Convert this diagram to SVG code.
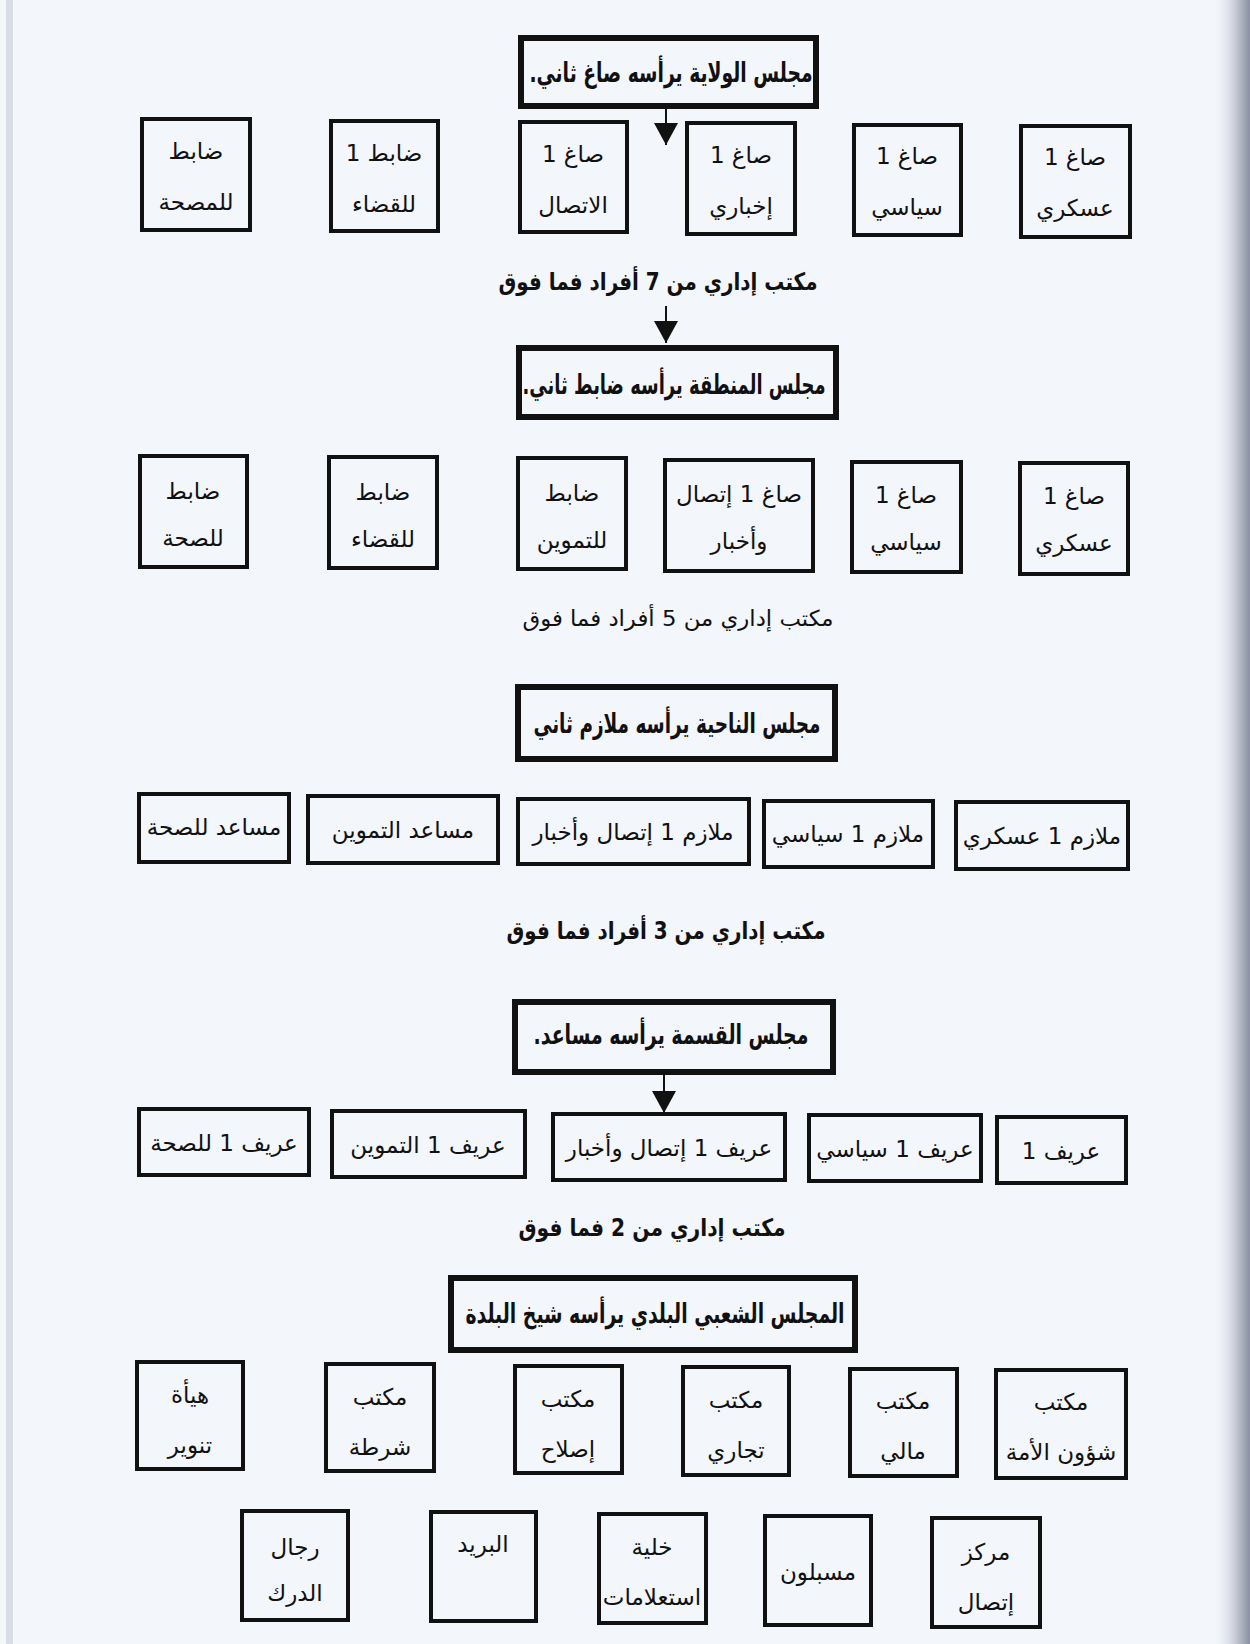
<svg xmlns="http://www.w3.org/2000/svg" width="1250" height="1644" viewBox="0 0 1250 1644">
<defs>
<linearGradient id="redge" x1="0" y1="0" x2="1" y2="0">
<stop offset="0" stop-color="#f3f6fb" stop-opacity="0"/>
<stop offset="0.6" stop-color="#c9cdd8"/>
<stop offset="1" stop-color="#8a90a2"/>
</linearGradient>
<marker id="ah" markerUnits="userSpaceOnUse" markerWidth="24" markerHeight="24" refX="22" refY="12" orient="auto">
<path d="M0,0 L22,12 L0,24 z" fill="#111"/>
</marker>
<style>
.bx{fill:none;stroke:#111;stroke-width:4}
.tb{fill:none;stroke:#111;stroke-width:6}
.t{font-family:"DejaVu Sans",sans-serif;font-size:23px;fill:#111;text-anchor:middle;direction:rtl}
.h{font-family:"DejaVu Sans",sans-serif;font-size:27px;font-weight:bold;fill:#111;text-anchor:middle;direction:rtl}
.c{font-family:"DejaVu Sans",sans-serif;font-size:22px;fill:#111;text-anchor:middle;direction:rtl}
.cb{font-family:"DejaVu Sans",sans-serif;font-size:24px;font-weight:bold;fill:#111;text-anchor:middle;direction:rtl}
.ln{stroke:#111;stroke-width:2;fill:none}
</style>
</defs>
<rect x="0" y="0" width="1250" height="1644" fill="#f3f6fb"/>
<rect x="0" y="0" width="6" height="1644" fill="#f4f7fa"/>
<rect x="6" y="0" width="7" height="1644" fill="#d9dde6"/>
<rect x="1212" y="0" width="38" height="1644" fill="url(#redge)"/>

<g id="connectors">
<line class="ln" x1="666" y1="107" x2="666" y2="145" marker-end="url(#ah)"/>
<line class="ln" x1="666" y1="306" x2="666" y2="343" marker-end="url(#ah)"/>
<line class="ln" x1="664" y1="1072" x2="664" y2="1113" marker-end="url(#ah)"/>
</g>

<!-- Section 1 -->
<g id="wilaya">
<rect class="tb" x="521" y="38" width="295" height="68"/>
<text class="h" x="671" y="82" textLength="283" lengthAdjust="spacingAndGlyphs">مجلس الولاية يرأسه صاغ ثاني.</text>
</g>
<g id="w1"><rect class="bx" x="142" y="119" width="108" height="111"/>
<text class="t" x="196" y="159">ضابط</text><text class="t" x="196" y="210">للمصحة</text></g>
<g id="w2"><rect class="bx" x="331" y="121" width="107" height="110"/>
<text class="t" x="384" y="161">ضابط 1</text><text class="t" x="384" y="212">للقضاء</text></g>
<g id="w3"><rect class="bx" x="520" y="122" width="107" height="110"/>
<text class="t" x="573" y="162">صاغ 1</text><text class="t" x="573" y="213">الاتصال</text></g>
<g id="w4"><rect class="bx" x="687" y="123" width="108" height="111"/>
<text class="t" x="741" y="163">صاغ 1</text><text class="t" x="741" y="214">إخباري</text></g>
<g id="w5"><rect class="bx" x="854" y="125" width="107" height="110"/>
<text class="t" x="907" y="164">صاغ 1</text><text class="t" x="907" y="215">سياسي</text></g>
<g id="w6"><rect class="bx" x="1021" y="126" width="109" height="111"/>
<text class="t" x="1075" y="165">صاغ 1</text><text class="t" x="1075" y="216">عسكري</text></g>
<text class="cb" x="658" y="290" textLength="319" lengthAdjust="spacingAndGlyphs">مكتب إداري من 7 أفراد فما فوق</text>

<!-- Section 2 -->
<g id="mintaqa">
<rect class="tb" x="519" y="348" width="317" height="69"/>
<text class="h" x="674" y="394" textLength="303" lengthAdjust="spacingAndGlyphs">مجلس المنطقة يرأسه ضابط ثاني.</text>
</g>
<g id="m1"><rect class="bx" x="140" y="456" width="107" height="111"/>
<text class="t" x="193" y="499">ضابط</text><text class="t" x="193" y="546">للصحة</text></g>
<g id="m2"><rect class="bx" x="329" y="457" width="108" height="111"/>
<text class="t" x="383" y="500">ضابط</text><text class="t" x="383" y="547">للقضاء</text></g>
<g id="m3"><rect class="bx" x="518" y="458" width="108" height="111"/>
<text class="t" x="572" y="501">ضابط</text><text class="t" x="572" y="548">للتموين</text></g>
<g id="m4"><rect class="bx" x="665" y="460" width="148" height="111"/>
<text class="t" x="739" y="502">صاغ 1 إتصال</text><text class="t" x="739" y="549">وأخبار</text></g>
<g id="m5"><rect class="bx" x="852" y="462" width="109" height="110"/>
<text class="t" x="906" y="503">صاغ 1</text><text class="t" x="906" y="550">سياسي</text></g>
<g id="m6"><rect class="bx" x="1020" y="463" width="108" height="111"/>
<text class="t" x="1074" y="504">صاغ 1</text><text class="t" x="1074" y="551">عسكري</text></g>
<text class="c" x="678" y="626" textLength="311" lengthAdjust="spacingAndGlyphs">مكتب إداري من 5 أفراد فما فوق</text>

<!-- Section 3 -->
<g id="nahiya">
<rect class="tb" x="518" y="687" width="317" height="72"/>
<text class="h" x="677" y="733" textLength="287" lengthAdjust="spacingAndGlyphs">مجلس الناحية يرأسه ملازم ثاني</text>
</g>
<g id="n1"><rect class="bx" x="139" y="794" width="150" height="68"/>
<text class="t" x="214" y="835">مساعد للصحة</text></g>
<g id="n2"><rect class="bx" x="308" y="796" width="190" height="67"/>
<text class="t" x="403" y="838">مساعد التموين</text></g>
<g id="n3"><rect class="bx" x="518" y="799" width="231" height="65"/>
<text class="t" x="633" y="840">ملازم 1 إتصال وأخبار</text></g>
<g id="n4"><rect class="bx" x="764" y="801" width="169" height="66"/>
<text class="t" x="848" y="842">ملازم 1 سياسي</text></g>
<g id="n5"><rect class="bx" x="956" y="802" width="172" height="67"/>
<text class="t" x="1042" y="844">ملازم 1 عسكري</text></g>
<text class="cb" x="666" y="939" textLength="319" lengthAdjust="spacingAndGlyphs">مكتب إداري من 3 أفراد فما فوق</text>

<!-- Section 4 -->
<g id="qisma">
<rect class="tb" x="515" y="1002" width="318" height="70"/>
<text class="h" x="671" y="1044" textLength="275" lengthAdjust="spacingAndGlyphs">مجلس القسمة يرأسه مساعد.</text>
</g>
<g id="q1"><rect class="bx" x="139" y="1109" width="170" height="66"/>
<text class="t" x="224" y="1151">عريف 1 للصحة</text></g>
<g id="q2"><rect class="bx" x="332" y="1111" width="193" height="66"/>
<text class="t" x="428" y="1153">عريف 1 التموين</text></g>
<g id="q3"><rect class="bx" x="553" y="1114" width="232" height="66"/>
<text class="t" x="669" y="1156">عريف 1 إتصال وأخبار</text></g>
<g id="q4"><rect class="bx" x="809" y="1115" width="172" height="66"/>
<text class="t" x="895" y="1157">عريف 1 سياسي</text></g>
<g id="q5"><rect class="bx" x="997" y="1117" width="129" height="66"/>
<text class="t" x="1061" y="1159">عريف 1</text></g>
<text class="cb" x="652" y="1236" textLength="267" lengthAdjust="spacingAndGlyphs">مكتب إداري من 2 فما فوق</text>

<!-- Section 5 -->
<g id="baladi">
<rect class="tb" x="451" y="1278" width="404" height="72"/>
<text class="h" x="655" y="1323" textLength="379" lengthAdjust="spacingAndGlyphs">المجلس الشعبي البلدي يرأسه شيخ البلدة</text>
</g>
<g id="b1"><rect class="bx" x="137" y="1362" width="106" height="107"/>
<text class="t" x="190" y="1403">هيأة</text><text class="t" x="190" y="1453">تنوير</text></g>
<g id="b2"><rect class="bx" x="326" y="1364" width="108" height="107"/>
<text class="t" x="380" y="1405">مكتب</text><text class="t" x="380" y="1455">شرطة</text></g>
<g id="b3"><rect class="bx" x="515" y="1366" width="107" height="107"/>
<text class="t" x="568" y="1407">مكتب</text><text class="t" x="568" y="1457">إصلاح</text></g>
<g id="b4"><rect class="bx" x="683" y="1367" width="106" height="108"/>
<text class="t" x="736" y="1408">مكتب</text><text class="t" x="736" y="1458">تجاري</text></g>
<g id="b5"><rect class="bx" x="850" y="1369" width="107" height="107"/>
<text class="t" x="903" y="1409">مكتب</text><text class="t" x="903" y="1459">مالي</text></g>
<g id="b6"><rect class="bx" x="996" y="1370" width="130" height="108"/>
<text class="t" x="1061" y="1410">مكتب</text><text class="t" x="1061" y="1460">شؤون الأمة</text></g>
<g id="b7"><rect class="bx" x="242" y="1511" width="106" height="109"/>
<text class="t" x="295" y="1555">رجال</text><text class="t" x="295" y="1601">الدرك</text></g>
<g id="b8"><rect class="bx" x="431" y="1512" width="105" height="109"/>
<text class="t" x="483" y="1552">البريد</text></g>
<g id="b9"><rect class="bx" x="599" y="1514" width="107" height="109"/>
<text class="t" x="652" y="1555">خلية</text><text class="t" x="652" y="1605">استعلامات</text></g>
<g id="b10"><rect class="bx" x="765" y="1516" width="106" height="109"/>
<text class="t" x="818" y="1580">مسبلون</text></g>
<g id="b11"><rect class="bx" x="932" y="1518" width="108" height="109"/>
<text class="t" x="986" y="1560">مركز</text><text class="t" x="986" y="1610">إتصال</text></g>
</svg>
